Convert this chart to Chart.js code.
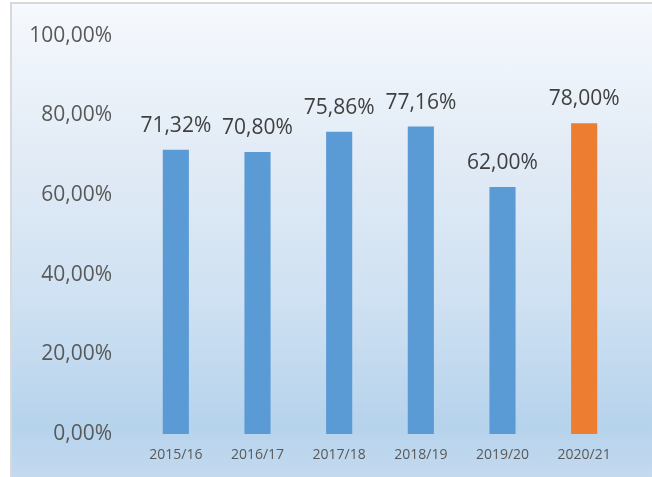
<!DOCTYPE html>
<html>
<head>
<meta charset="utf-8">
<script src="https://cdn.jsdelivr.net/npm/chart.js@4/dist/chart.umd.min.js"></script>
<style>
  html, body { margin: 0; padding: 0; background: #fff; }
  #wrap { position: relative; width: 652px; height: 477px; overflow: hidden; }
  #bg {
    position: absolute; left: 10px; top: 2px; right: -5px; bottom: -5px;
    border-left: 2px solid #d9d9d9; border-top: 2px solid #d9d9d9;
    background: linear-gradient(to bottom, #f6f9fd 0%, #e3ecf6 30%, #cfe1f2 62%, #b6d3ec 88%, #c4daef 100%);
  }
  canvas { position: absolute; left: 0; top: 0; }
</style>
</head>
<body>
<div id="wrap">
  <div id="bg"></div>
  <canvas id="chart" width="652" height="477"></canvas>
</div>
<script>
// school years and percentages
const years = ['2015/16', '2016/17', '2017/18', '2018/19', '2019/20', '2020/21'];
const rates = [71.32, 70.80, 75.86, 77.16, 62.00, 78.00];
const barColors = ['#5b9bd5', '#5b9bd5', '#5b9bd5', '#5b9bd5', '#5b9bd5', '#ed7d31'];

const fmt = (v) => v.toFixed(2).replace('.', ',') + '%';

// draw the value above each bar
const valueLabels = {
  id: 'valueLabels',
  afterDatasetsDraw(chart) {
    const ctx = chart.ctx;
    const meta = chart.getDatasetMeta(0);
    ctx.save();
    ctx.font = '21px "Open Sans"';
    ctx.fillStyle = '#404040';
    ctx.textAlign = 'center';
    ctx.textBaseline = 'alphabetic';
    meta.data.forEach((bar, i) => {
      ctx.fillText(fmt(rates[i]), bar.x, bar.y - 18);
    });
    ctx.restore();
  }
};

new Chart(document.getElementById('chart'), {
  type: 'bar',
  data: {
    labels: years,
    datasets: [{
      data: rates,
      backgroundColor: barColors,
      barPercentage: 0.32,
      categoryPercentage: 1
    }]
  },
  options: {
    responsive: false,
    animation: false,
    layout: { padding: { left: 0, right: 27, top: 33, bottom: 0 } },
    plugins: { legend: { display: false }, tooltip: { enabled: false } },
    scales: {
      x: {
        grid: { display: false, drawTicks: false },
        border: { display: false },
        ticks: { color: '#595959', font: { family: 'Open Sans', size: 14 }, padding: 13 },
        afterFit(scale) { scale.height = 43; }
      },
      y: {
        min: 0,
        max: 100,
        grid: { display: false, drawTicks: false },
        border: { display: false },
        ticks: {
          stepSize: 20,
          color: '#595959',
          font: { family: 'Open Sans', size: 21 },
          padding: 23,
          callback: (v) => fmt(v)
        },
        afterFit(scale) { scale.width = 135; }
      }
    }
  },
  plugins: [valueLabels]
});
</script>
</body>
</html>
